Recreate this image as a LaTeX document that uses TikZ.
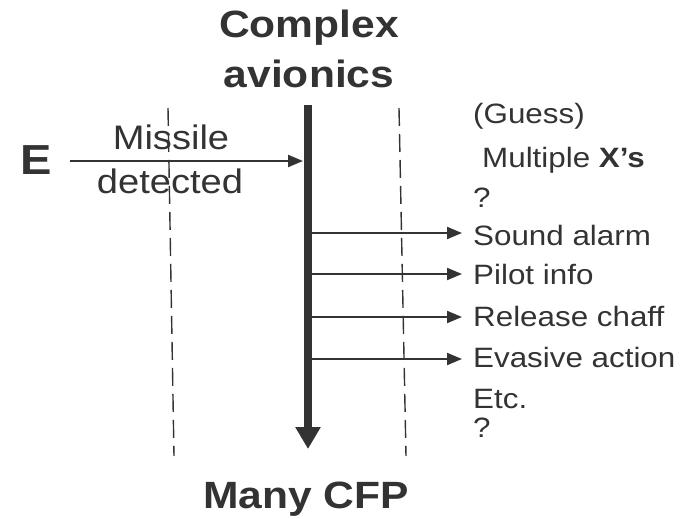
\documentclass[tikz,border=0pt]{standalone}
\usepackage{fontspec}
\setmainfont{Liberation Sans}[FakeStretch=1.12]
\usetikzlibrary{arrows.meta}
\definecolor{ink}{HTML}{333333}
\tikzset{
  title/.style={inner sep=0pt, anchor=base, text=ink, font=\fontsize{38}{44}\selectfont\bfseries},
  leftlabel/.style={inner sep=0pt, anchor=base, text=ink, font=\fontsize{34}{40}\selectfont},
  outitem/.style={inner sep=0pt, anchor=base west, text=ink, font=\fontsize{28}{34}\selectfont},
  boundary/.style={draw=ink, line width=1.4pt, dash pattern=on 18pt off 8pt},
  spine/.style={draw=ink, line width=8pt, -{Triangle[length=22pt,width=24pt]}},
  flow/.style={draw=ink, line width=2pt, -{Triangle[length=15pt,width=12pt]}}
}
\begin{document}
\begin{tikzpicture}[x=1pt,y=-1pt]
  \useasboundingbox (0,0) rectangle (694,519);

  % system boundary (dashed)
  \coordinate (bl1) at (168,108);
  \coordinate (bl2) at (174,456);
  \coordinate (br1) at (399,108);
  \coordinate (br2) at (406,456);
  \draw[boundary] (bl1) -- (bl2);
  \draw[boundary] (br1) -- (br2);

  % headings
  \node[title] (complex) at (309,38) {Complex};
  \node[title] (avionics) at (309,88) {avionics};
  \node[title] (cfp) at (306,508) {Many CFP};

  % main process line
  \coordinate (sTop) at (308,105);
  \coordinate (sBot) at (308,449);
  \draw[spine] (sTop) -- (sBot);

  % input event
  \node[inner sep=0pt, anchor=base, text=ink, font=\fontsize{42}{48}\selectfont\bfseries] (E) at (36,174) {E};
  \coordinate (inEnd) at (303,161);
  \coordinate (inStart) at (70,161);
  \draw[flow] (inStart) -- (inEnd);
  \node[leftlabel] (missile) at (171,149) {Missile};
  \node[leftlabel] (detected) at (170,193) {detected};

  % outputs
  \node[outitem] (guess) at (473,123) {(Guess)};
  \node[outitem] (multi) at (482,167) {Multiple \textbf{X’s}};
  \node[outitem] (q1) at (473,207) {?};
  \node[outitem] (alarm) at (473,245) {Sound alarm};
  \node[outitem] (pilot) at (473,284) {Pilot info};
  \node[outitem] (chaff) at (473,326) {Release chaff};
  \node[outitem] (evade) at (473,367) {Evasive action};
  \node[outitem] (etc) at (473,408) {Etc.};
  \node[outitem] (q2) at (473,437) {?};

  \foreach \n/\y in {a/233, b/274, c/317, d/359}{
    \coordinate (o\n s) at (312,\y);
    \coordinate (o\n e) at (462,\y);
    \draw[flow] (o\n s) -- (o\n e);
  }
\end{tikzpicture}
\end{document}
